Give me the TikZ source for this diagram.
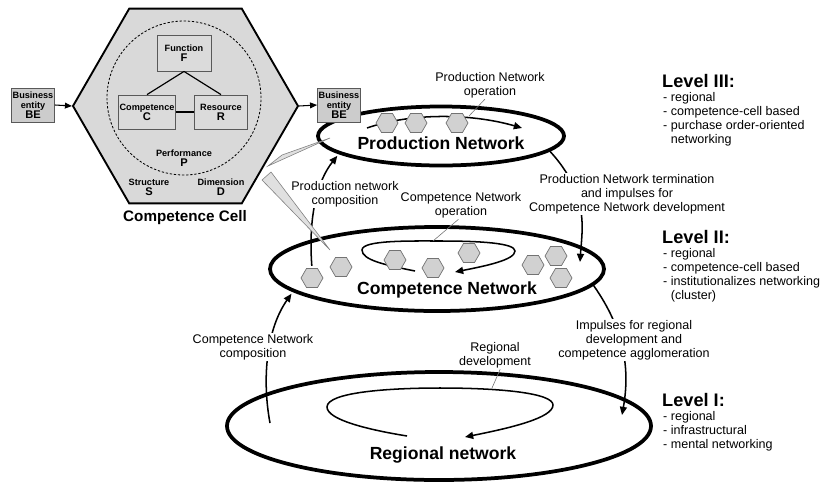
\documentclass[tikz,border=0pt]{standalone}
\usepackage{fontspec}
\setmainfont{Liberation Sans}
\usetikzlibrary{shapes.geometric, positioning, arrows.meta}

\newcommand{\labfont}{\fontsize{10.7}{12}\selectfont}
\newcommand{\boxfont}{\fontsize{7.8}{8.4}\selectfont\bfseries}
\newcommand{\bigletter}[1]{{\fontsize{9.5}{10}\selectfont #1}}

\tikzset{
  cellbox/.style={draw=black!65, fill=black!14, line width=0.7pt, align=center, inner sep=1pt, font=\boxfont},
  entity/.style={cellbox, fill=black!20, minimum width=12.9mm, minimum height=10.2mm},
  celltext/.style={align=center, inner sep=0pt, font=\boxfont},
  hexa/.style={regular polygon, regular polygon sides=6, draw=black!55, fill=black!18, minimum size=6.6mm, inner sep=0pt, line width=0.6pt},
  network/.style={ellipse, draw, line width=3.2pt, inner sep=0pt},
  nettitle/.style={font=\fontsize{15}{16}\selectfont\bfseries},
  flow/.style={-{Triangle[length=7pt,width=6pt]}, line width=1.3pt},
  lab/.style={align=center, font=\labfont, inner sep=1pt},
  cover/.style={lab, fill=white},
  leader/.style={draw=black!55, line width=0.5pt},
  wedge/.style={draw=black!50, fill=black!12, line width=0.5pt},
  level/.style={font=\fontsize{15.5}{16}\selectfont\bfseries, anchor=west, inner sep=0pt},
  levellist/.style={font=\labfont, align=left, anchor=north west, inner sep=0pt}
}

\begin{document}
\begin{tikzpicture}[x=0.3mm, y=-0.3mm]
    \useasboundingbox (0,0) rectangle (828,483);
    % Define the competence cell
    \node[regular polygon, regular polygon sides=6, draw, fill=black!15, line width=1.6pt, minimum size=67.5mm, inner sep=0pt] (cell) at (185.5,106) {};
    \node[circle, draw, dash pattern=on 2pt off 1.5pt, line width=0.7pt, minimum size=46.2mm, inner sep=0pt] (perf) at (184,98) {};
    \node[cellbox, minimum width=16.2mm, minimum height=10.8mm] (fn) at (184,53) {Function\\\bigletter{F}};
    \node[cellbox, minimum width=15.9mm, minimum height=10.2mm] (cp) at (147,112) {Competence\\\bigletter{C}};
    \node[cellbox, minimum width=15.9mm, minimum height=10.2mm] (rs) at (221,112) {Resource\\\bigletter{R}};
    \node[celltext] (pf) at (184,158) {Performance\\\bigletter{P}};
    \node[celltext] (st) at (149,187) {Structure\\\bigletter{S}};
    \node[celltext] (dm) at (221,187) {Dimension\\\bigletter{D}};
    \node[font=\fontsize{13}{14}\selectfont\bfseries] (celltitle) at (185,218) {Competence Cell};
    \draw[line width=1pt] (fn.south) -- (cp.north);
    \draw[line width=1pt] (fn.south) -- (rs.north);
    \draw[line width=1pt] (cp.east) -- (rs.west);

    % Define the networks
    \node[network, minimum width=73.8mm, minimum height=17.7mm] (prod) at (441,136) {};
    \node[nettitle] (prodt) at (441,143) {Production Network};
    \node[network, minimum width=100.2mm, minimum height=25.2mm] (comp) at (437,269) {};
    \node[nettitle] (compt) at (447,290) {Competence Network};
    \node[network, minimum width=127.2mm, minimum height=32.4mm] (reg) at (439,426) {};
    \node[nettitle] (regt) at (443,455) {Regional network};

    % Define the business entities
    \node[entity] (beL) at (33,105) {Business\\entity\\\bigletter{BE}};
    \node[entity] (beR) at (339,105) {Business\\entity\\\bigletter{BE}};
    \draw[-{Triangle[length=6pt,width=5pt]}, line width=0.9pt] (beL.east) -- (cell.west);
    \draw[-{Triangle[length=6pt,width=5pt]}, line width=0.9pt] (cell.east) -- (beR.west);

    % Define the operation loops
    \draw[flow] (367,128) .. controls (410,113) and (470,113) .. (522,128);
    \draw[flow] (415,271) .. controls (385,265) and (362,260) .. (362,250)
        .. controls (362,240) and (410,241) .. (440,241)
        .. controls (480,241) and (515,243) .. (515,251)
        .. controls (515,260) and (485,266) .. (455,272);
    \draw[flow] (407,436) .. controls (370,430) and (327,420) .. (327,407)
        .. controls (327,392) and (390,388) .. (440,388)
        .. controls (500,388) and (553,393) .. (553,405)
        .. controls (553,418) and (510,428) .. (465,437);

    % Define the cells in the networks
    \node[hexa] (p1) at (387,123) {};
    \node[hexa] (p2) at (416,123) {};
    \node[hexa] (p3) at (457,123) {};
    \node[hexa] (c1) at (312,278) {};
    \node[hexa] (c2) at (341,267) {};
    \node[hexa] (c3) at (395,260) {};
    \node[hexa] (c4) at (433,268) {};
    \node[hexa] (c5) at (469,253) {};
    \node[hexa] (c6) at (533,265) {};
    \node[hexa] (c7) at (556,256) {};
    \node[hexa] (c8) at (561,278) {};

    % Define the transitions
    \coordinate (tend) at (580,262);
    \coordinate (iend) at (622,415);
    \coordinate (cstart) at (270,423);
    \draw[flow, shorten <=2pt, shorten >=2pt] (c1.north) .. controls (308,215) and (318,180) .. (prod.190);
    \draw[flow] (prod.-8) .. controls (590,195) and (582,230) .. (tend);
    \draw[flow] (comp.-6) .. controls (625,330) and (630,370) .. (iend);
    \draw[flow, shorten >=2pt] (cstart) .. controls (262,380) and (266,330) .. (comp.189);

    % Define the labels
    \node[lab] (polab) at (490,85) {Production Network\\operation};
    \node[lab] (colab) at (461,205) {Competence Network\\operation};
    \node[lab] (rdlab) at (495,355) {Regional\\development};
    \node[cover] (pnc) at (345,194) {Production network\\composition};
    \node[cover] (cnc) at (253,347) {Competence Network\\composition};
    \node[cover] (ptlab) at (627,194) {Production Network termination\\and impulses for\\Competence Network development};
    \node[cover] (implab) at (634,340) {Impulses for regional\\development and\\competence agglomeration};
    \coordinate (pl) at (469,116);
    \coordinate (cl) at (433,241);
    \coordinate (rl) at (492,388);
    \draw[leader] (polab.250) -- (pl);
    \draw[leader] (colab.260) -- (cl);
    \draw[leader] (rdlab.290) -- (rl);

    % Define the callout to the networks
    \draw[wedge] (268,166) -- (282,155) -- (330,138) -- cycle;
    \draw[wedge] (262,180) -- (271,172) -- (330,250) -- cycle;

    % Define the levels
    \node[level] (l3) at (662,81) {Level III:};
    \node[levellist] (l3list) at (663,92) {- regional\\- competence-cell based\\- purchase order-oriented\\\phantom{- }networking};
    \node[level] (l2) at (662,237) {Level II:};
    \node[levellist] (l2list) at (663,248) {- regional\\- competence-cell based\\- institutionalizes networking\\\phantom{- }(cluster)};
    \node[level] (l1) at (662,400) {Level I:};
    \node[levellist] (l1list) at (663,411) {- regional\\- infrastructural\\- mental networking};
\end{tikzpicture}
\end{document}
